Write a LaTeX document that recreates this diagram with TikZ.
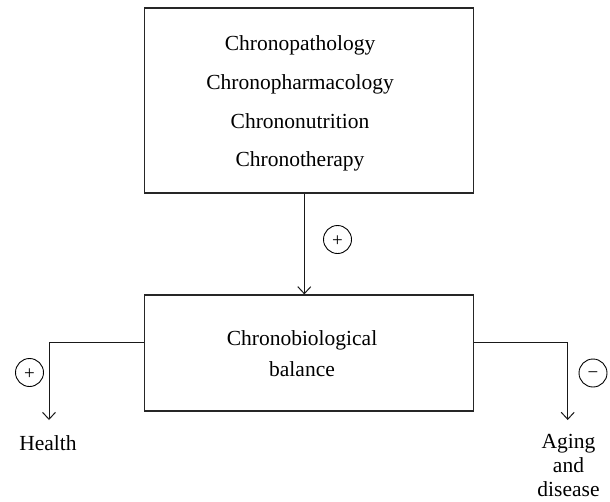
\documentclass[tikz,border=0pt]{standalone}
\usepackage{fontspec}
\setmainfont{Liberation Serif}
\usetikzlibrary{arrows.meta}
\begin{document}
\begin{tikzpicture}[x=1pt,y=-1pt,
  box/.style={draw=black!85, line width=1.2pt, inner sep=0pt},
  lbl/.style={font=\fontsize{21.5}{24}\selectfont, inner sep=0pt, anchor=base},
  sign/.style={draw=black, circle, line width=0.9pt, minimum size=28pt, inner sep=0pt, font=\fontsize{19}{19}\selectfont},
  conn/.style={draw=black!90, line width=1pt},
  arr/.style={conn, -{Straight Barb[length=7pt,width=13pt,line width=1pt]}}]
\useasboundingbox (0,0) rectangle (610,501);
% boxes
\node[box, minimum width=328.6pt, minimum height=185pt] (top) at (309,100.5) {};
\node[box, minimum width=328.8pt, minimum height=116pt] (low) at (308.9,353) {};
% texts in top box
\node[lbl] (t1) at (300,50.7) {Chronopathology};
\node[lbl] (t2) at (300,89.3) {Chronopharmacology};
\node[lbl] (t3) at (300,128.3) {Chrononutrition};
\node[lbl] (t4) at (300,166.7) {Chronotherapy};
% texts in lower box
\node[lbl] (b1) at (302,345) {Chronobiological};
\node[lbl] (b2) at (302,376.7) {balance};
% outcomes
\node[lbl] (health) at (48,450.7) {Health};
\node[lbl] (ag1) at (568.5,448) {Aging};
\node[lbl] (ag2) at (568.5,472.3) {and};
\node[lbl] (ag3) at (568.5,496) {disease};
% signs
\node[sign] (s1) at (337.5,239.5) {\raisebox{-2pt}[\height][0pt]{+}};
\node[sign] (s2) at (29.5,372.5) {\raisebox{-2pt}[\height][0pt]{+}};
\node[sign] (s3) at (593,373) {\raisebox{-2pt}[\height][0pt]{−}};
% connector coordinates
\coordinate (ax) at (304.3,0);
\coordinate (ly) at (0,342.3);
\coordinate (lx) at (49,0);
\coordinate (rx) at (567.7,0);
\coordinate (lend) at (49,420);
\coordinate (rend) at (567.7,420);
% connectors
\draw[arr] (top.south -| ax) -- (low.north -| ax);
\draw[arr] (low.west |- ly) -- (lx |- ly) -- (lend);
\draw[arr] (low.east |- ly) -- (rx |- ly) -- (rend);
\end{tikzpicture}
\end{document}
